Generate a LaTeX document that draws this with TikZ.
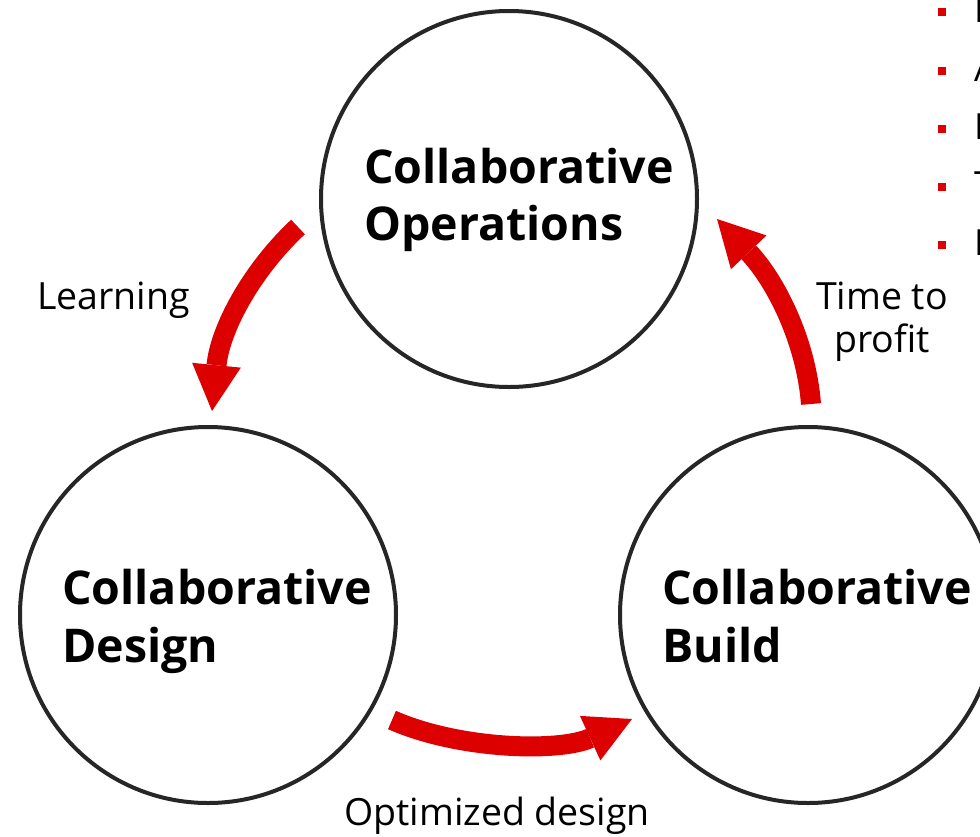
\documentclass[tikz,border=0pt]{standalone}
\usepackage{fontspec}
\setmainfont{Open Sans}
\usetikzlibrary{arrows.meta}
\definecolor{abbred}{HTML}{DD0000}
\definecolor{ring}{HTML}{262626}
\begin{document}
\begin{tikzpicture}[x=1pt,y=-1pt,
  phase/.style={circle, draw=ring, line width=4pt, minimum size=376pt, inner sep=0pt},
  title/.style={anchor=base west, inner sep=0pt, font=\fontsize{46.5}{57}\selectfont\bfseries},
  lbl/.style={inner sep=0pt, font=\fontsize{37.5}{43}\selectfont},
  flow/.style={draw=abbred, line width=20pt, -{Triangle[width=49pt,length=46pt,line width=0pt]}},
  bulletsq/.style={fill=abbred, minimum size=8pt, inner sep=0pt},
  btext/.style={anchor=base west, inner sep=0pt, font=\fontsize{36}{43}\selectfont}
]
\useasboundingbox (0,0) rectangle (980,836);
\fill[white] (0,0) rectangle (980,836);

% circles
\node[phase] (ops) at (509,199) {};
\node[phase] (des) at (208,615) {};
\node[phase] (bld) at (808,615) {};

% titles
\node[title] (opsA) at (364,183) {Collaborative};
\node[title] (opsB) at (364,240) {Operations};
\node[title] (desA) at (62,604) {Collaborative};
\node[title] (desB) at (62,662) {Design};
\node[title] (bldA) at (662,604) {Collaborative};
\node[title] (bldB) at (662,662) {Build};

% arrow end points
\coordinate (l1) at (298,227);
\coordinate (l2) at (212,411);
\coordinate (t1) at (811,404);
\coordinate (t2) at (717,219);
\coordinate (o1) at (392,720);
\coordinate (o2) at (632,719);

\draw[flow] (l1) .. controls (250,272) and (220,330) .. (l2);
\draw[flow] (t1) .. controls (806,340) and (775,280) .. (t2);
\draw[flow] (o1) .. controls (460,750) and (560,752) .. (o2);

% labels
\node[lbl, anchor=base west] (learn) at (37,309) {Learning};
\node[lbl, anchor=base] (time1) at (882,309) {Time to};
\node[lbl, anchor=base] (time2) at (882,352) {profit};
\node[lbl, anchor=base] (opt) at (497,825) {Optimized design};

% cut-off bullet list
\node[bulletsq] (b1) at (942,12) {};
\node[bulletsq] (b2) at (942,71) {};
\node[bulletsq] (b3) at (942,129) {};
\node[bulletsq] (b4) at (942,187) {};
\node[bulletsq] (b5) at (942,245) {};
\node[btext] (bt1) at (974,22) {F};
\node[btext] (bt2) at (974,81) {A};
\node[btext] (bt3) at (974,139) {F};
\node[btext] (bt4) at (974,197) {T};
\node[btext] (bt5) at (974,255) {F};
\end{tikzpicture}
\end{document}
